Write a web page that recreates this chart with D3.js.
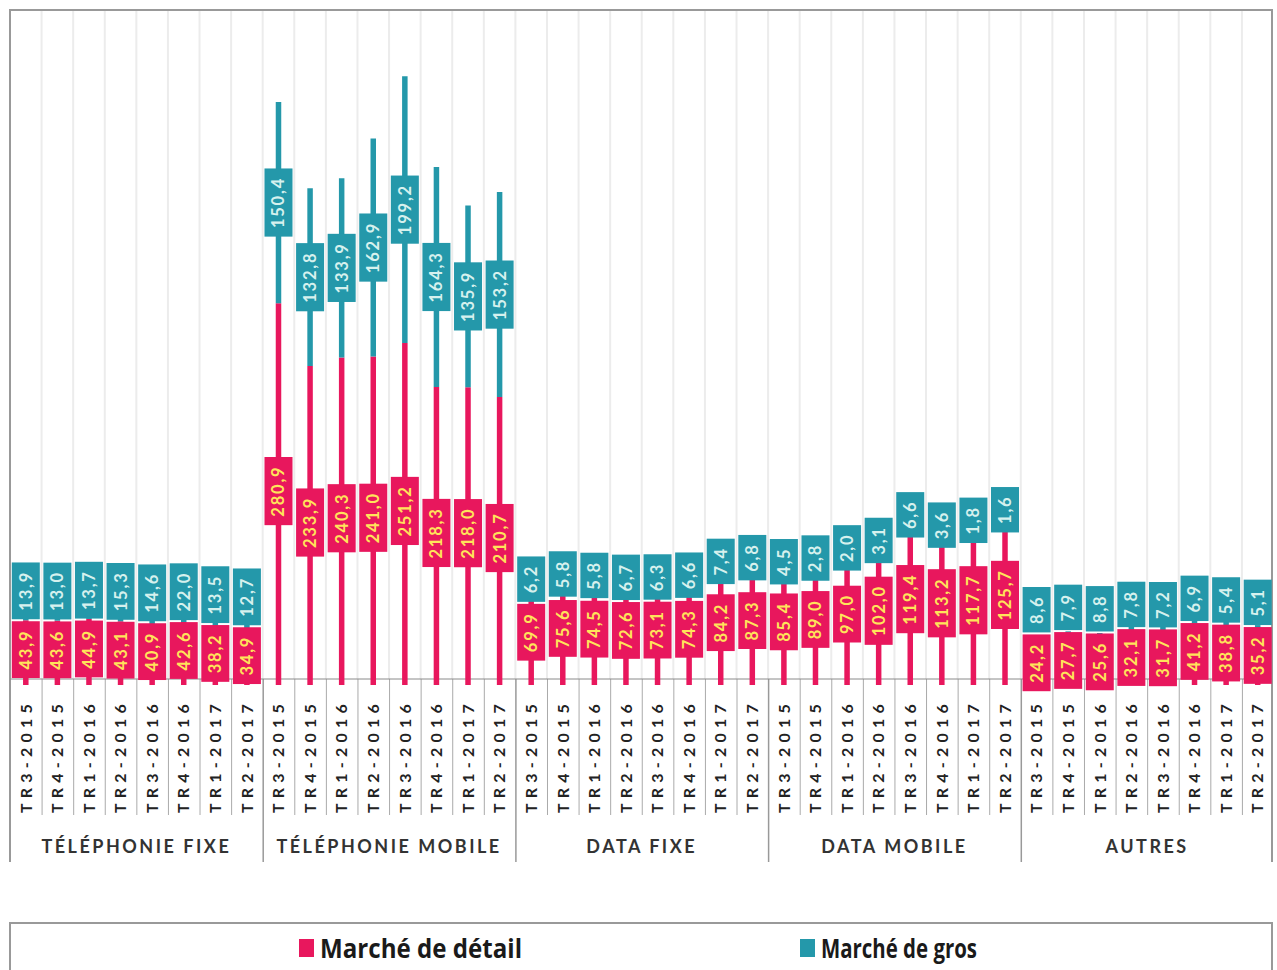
<!DOCTYPE html>
<html lang="fr">
<head>
<meta charset="utf-8">
<script src="https://cdn.jsdelivr.net/npm/d3@7"></script>
<style>
  html, body { margin: 0; padding: 0; background: #fff; }
  svg { display: block; }
  .tick-label { font-family: Lato, "Open Sans", sans-serif; font-weight: 700; font-size: 16px; fill: #222; letter-spacing: 5.2px; }
  .group-label { font-family: Lato, "Open Sans", sans-serif; font-weight: 700; font-size: 18px; fill: #333; letter-spacing: 2.5px; }
  .box-label { font-family: Lato, "Open Sans", sans-serif; font-weight: 700; font-size: 16.5px; letter-spacing: 1.8px; }
  .legend-label { font-family: "Open Sans", Lato, sans-serif; font-weight: 700; font-size: 27px; fill: #1a1a1a; }
</style>
</head>
<body>
<div id="chart"></div>
<script>
const groups = ["TÉLÉPHONIE FIXE", "TÉLÉPHONIE MOBILE", "DATA FIXE", "DATA MOBILE", "AUTRES"];
const quarters = ["TR3-2015", "TR4-2015", "TR1-2016", "TR2-2016", "TR3-2016", "TR4-2016", "TR1-2017", "TR2-2017"];

// Marché de détail, one row per group
const detailValues = [
  [43.9, 43.6, 44.9, 43.1, 40.9, 42.6, 38.2, 34.9],
  [280.9, 233.9, 240.3, 241.0, 251.2, 218.3, 218.0, 210.7],
  [69.9, 75.6, 74.5, 72.6, 73.1, 74.3, 84.2, 87.3],
  [85.4, 89.0, 97.0, 102.0, 119.4, 113.2, 117.7, 125.7],
  [24.2, 27.7, 25.6, 32.1, 31.7, 41.2, 38.8, 35.2],
];

// Marché de gros
const grosValues = [
  [13.9, 13.0, 13.7, 15.3, 14.6, 22.0, 13.5, 12.7],
  [150.4, 132.8, 133.9, 162.9, 199.2, 164.3, 135.9, 153.2],
  [6.2, 5.8, 5.8, 6.7, 6.3, 6.6, 7.4, 6.8],
  [4.5, 2.8, 2.0, 3.1, 6.6, 3.6, 1.8, 1.6],
  [8.6, 7.9, 8.8, 7.8, 7.2, 6.9, 5.4, 5.1],
];

const seriesNames = ["Marché de détail", "Marché de gros"];
const yDomain = [0, 500];

const colors = { detail: "#e8175d", gros: "#2498aa", detailText: "#ffe45a", grosText: "#d6f1ee" };
const width = 1277;
const height = 970;
const frame = { left: 10, right: 1272, top: 10, baseline: 679 };

const rows = [];
groups.forEach((group, gi) => {
  quarters.forEach((quarter, qi) => {
    rows.push({
      key: `${gi}-${qi}`,
      group,
      gi,
      quarter,
      detail: detailValues[gi][qi],
      gros: grosValues[gi][qi],
    });
  });
});

const svg = d3.select("#chart")
  .append("svg")
  .attr("width", width)
  .attr("height", height);

const x = d3.scaleBand()
  .domain(rows.map((row) => row.key))
  .range([frame.left, frame.right + 1.5])
  .padding(0);

const y = d3.scaleLinear()
  .domain(yDomain)
  .range([frame.baseline, frame.top]);

const cx = (row) => x(row.key) + x.bandwidth() / 2;
const fmt = (value) => value.toFixed(1).replace(".", ",");

// light vertical grid between categories
svg.append("g")
  .selectAll("line")
  .data(rows.slice(1))
  .join("line")
  .attr("x1", (row) => x(row.key))
  .attr("x2", (row) => x(row.key))
  .attr("y1", frame.top)
  .attr("y2", frame.baseline)
  .attr("stroke", "#ececec")
  .attr("stroke-width", 2);

// separators under the axis
svg.append("g")
  .selectAll("line")
  .data(rows.slice(1))
  .join("line")
  .attr("x1", (row) => x(row.key) + 0.5)
  .attr("x2", (row) => x(row.key) + 0.5)
  .attr("y1", frame.baseline)
  .attr("y2", (row) => (row.quarter === quarters[0] ? 862 : 815))
  .attr("stroke", (row) => (row.quarter === quarters[0] ? "#999" : "#aaa"))
  .attr("stroke-width", (row) => (row.quarter === quarters[0] ? 1.5 : 1));

// frame
svg.append("path")
  .attr("d", `M${frame.left},862 V${frame.top} H${frame.right} V862`)
  .attr("fill", "none")
  .attr("stroke", "#999")
  .attr("stroke-width", 2);

svg.append("line")
  .attr("x1", frame.left)
  .attr("x2", frame.right)
  .attr("y1", frame.baseline)
  .attr("y2", frame.baseline)
  .attr("stroke", "#8a8a8a")
  .attr("stroke-width", 1);

// stems
svg.append("g")
  .selectAll("line")
  .data(rows)
  .join("line")
  .attr("x1", cx)
  .attr("x2", cx)
  .attr("y1", y(0) + 6)
  .attr("y2", (row) => y(row.detail))
  .attr("stroke", colors.detail)
  .attr("stroke-width", 5.5);

svg.append("g")
  .selectAll("line")
  .data(rows)
  .join("line")
  .attr("x1", cx)
  .attr("x2", cx)
  .attr("y1", (row) => y(row.detail))
  .attr("y2", (row) => y(row.detail + row.gros))
  .attr("stroke", colors.gros)
  .attr("stroke-width", 5.5);

// value boxes
const boxWidth = 28;
const boxPad = 8.5;

function drawBoxes(layer, accessor, fill, textFill) {
  const g = layer.selectAll("g")
    .data(rows)
    .join("g");
  g.append("text")
    .attr("class", "box-label")
    .attr("fill", textFill)
    .attr("text-anchor", "middle")
    .attr("dy", "0.36em")
    .text((row) => fmt(accessor(row)));
  g.each(function (row) {
    const len = this.querySelector("text").getComputedTextLength();
    row[`box_${fill}`] = len + boxPad * 2;
  });
  return g;
}

const pinkLayer = svg.append("g");
const tealLayer = svg.append("g");

// measure label lengths first
const pink = drawBoxes(pinkLayer, (row) => row.detail, colors.detail, colors.detailText);
const teal = drawBoxes(tealLayer, (row) => row.gros, colors.gros, colors.grosText);

rows.forEach((row) => {
  const ph = row[`box_${colors.detail}`];
  const th = row[`box_${colors.gros}`];
  row.pinkCenter = y(row.detail / 2);
  row.pinkH = ph;
  const pinkTop = row.pinkCenter - ph / 2;
  let tealCenter = y(row.detail + row.gros / 2);
  if (tealCenter + th / 2 > pinkTop - 2) tealCenter = pinkTop - 2 - th / 2;
  row.tealCenter = tealCenter;
  row.tealH = th;
});

function placeBoxes(g, centerKey, hKey, fill) {
  g.attr("transform", (row) => `translate(${cx(row)},${row[centerKey]})`);
  g.insert("rect", "text")
    .attr("x", -boxWidth / 2)
    .attr("y", (row) => -row[hKey] / 2)
    .attr("width", boxWidth)
    .attr("height", (row) => row[hKey])
    .attr("fill", fill);
  g.select("text").attr("transform", "rotate(-90)");
}

placeBoxes(pink, "pinkCenter", "pinkH", colors.detail);
placeBoxes(teal, "tealCenter", "tealH", colors.gros);

// quarter labels
svg.append("g")
  .selectAll("text")
  .data(rows)
  .join("text")
  .attr("class", "tick-label")
  .attr("transform", (row) => `translate(${cx(row)},813) rotate(-90)`)
  .attr("dy", "0.36em")
  .text((row) => row.quarter);

// group labels
svg.append("g")
  .selectAll("text")
  .data(groups)
  .join("text")
  .attr("class", "group-label")
  .attr("text-anchor", "middle")
  .attr("x", (group, gi) => {
    const first = x(`${gi}-0`);
    const last = x(`${gi}-${quarters.length - 1}`) + x.bandwidth();
    return (first + last) / 2;
  })
  .attr("y", 847)
  .attr("dy", "0.36em")
  .text((group) => group);

// legend
const legend = svg.append("g");
legend.append("rect")
  .attr("x", frame.left)
  .attr("y", 923)
  .attr("width", frame.right - frame.left)
  .attr("height", 80)
  .attr("fill", "#fff")
  .attr("stroke", "#999")
  .attr("stroke-width", 2);

const legendItems = [
  { name: seriesNames[0], color: colors.detail, x: 299, width: 202 },
  { name: seriesNames[1], color: colors.gros, x: 800, width: 156 },
];

const item = legend.selectAll("g")
  .data(legendItems)
  .join("g")
  .attr("transform", (d) => `translate(${d.x},0)`);

item.append("rect")
  .attr("x", 0)
  .attr("y", 939)
  .attr("width", 15)
  .attr("height", 18)
  .attr("fill", (d) => d.color);

item.append("text")
  .attr("class", "legend-label")
  .attr("x", 21)
  .attr("y", 958)
  .attr("textLength", (d) => d.width)
  .attr("lengthAdjust", "spacingAndGlyphs")
  .text((d) => d.name);
</script>
</body>
</html>
